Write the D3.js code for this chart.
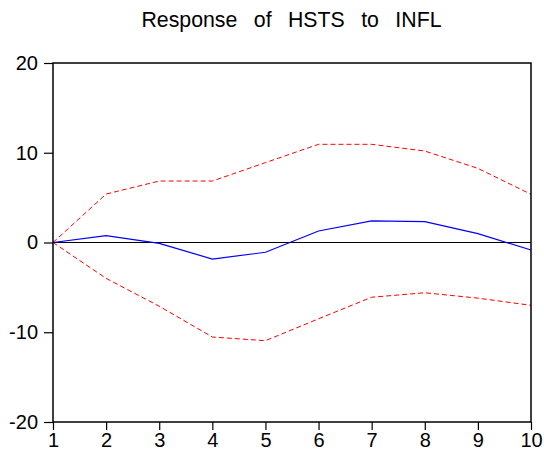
<!DOCTYPE html>
<html><head><meta charset="utf-8">
<script src="https://cdn.jsdelivr.net/npm/d3@7"></script>
<style>body{margin:0;background:#fff}svg{display:block}</style>
</head><body>
<svg id="c" width="544" height="457"></svg>
<script>
const periods = [1,2,3,4,5,6,7,8,9,10];
const response = [0, 0.76, -0.1, -1.84, -1.09, 1.28, 2.4, 2.32, 0.98, -0.84];
const upperBand = [0, 5.4, 6.85, 6.85, 8.9, 10.94, 10.94, 10.19, 8.26, 5.37];
const lowerBand = [0, -4.0, -7.1, -10.53, -10.94, -8.5, -6.1, -5.6, -6.2, -7.0];
const yTicks = [-20, -10, 0, 10, 20];
const title = "Response of HSTS to INFL";

const svg = d3.select("#c");
const L = 53, R = 531, T = 63, B = 422;
const x = d3.scaleLinear().domain([1,10]).range([L,R]);
const y = d3.scaleLinear().domain([-20,20]).range([B,T]);
const font = "'Liberation Sans', Arial, sans-serif";

svg.append("text").attr("x", 291.5).attr("y", 27.3).attr("text-anchor","middle")
  .attr("font-family", font).attr("font-size", 21.3).attr("word-spacing", 10.5)
  .attr("fill","#000").text(title);

// zero line
svg.append("line").attr("x1",L).attr("x2",R).attr("y1",y(0)).attr("y2",y(0))
  .attr("stroke","#000").attr("stroke-width",1);

const line = d3.line().x((d,i)=>x(periods[i])).y(d=>y(d));
svg.append("path").datum(upperBand).attr("d",line).attr("fill","none")
  .attr("stroke","#ff0000").attr("stroke-width",1).attr("stroke-dasharray","5,3");
svg.append("path").datum(lowerBand).attr("d",line).attr("fill","none")
  .attr("stroke","#ff0000").attr("stroke-width",1).attr("stroke-dasharray","5,3");
svg.append("path").datum(response).attr("d",line).attr("fill","none")
  .attr("stroke","#0000ff").attr("stroke-width",1.2);

// frame
svg.append("rect").attr("x",L).attr("y",T).attr("width",R-L).attr("height",B-T)
  .attr("fill","none").attr("stroke","#000").attr("stroke-width",1.5);

const fmt = d => String(d).replace("\u2212","-");
const yAxis = svg.append("g").attr("transform",`translate(${L},0)`)
  .call(d3.axisLeft(y).tickValues(yTicks).tickSize(9).tickPadding(6).tickFormat(fmt));
const xAxis = svg.append("g").attr("transform",`translate(0,${B})`)
  .call(d3.axisBottom(x).tickValues(periods).tickSize(8).tickPadding(3).tickFormat(fmt));
[yAxis,xAxis].forEach(g=>{
  g.select(".domain").remove();
  g.selectAll("line").attr("stroke","#000").attr("stroke-width",1.2);
  g.selectAll("text").attr("font-family",font).attr("font-size",20).attr("fill","#000");
});
</script>
</body></html>
